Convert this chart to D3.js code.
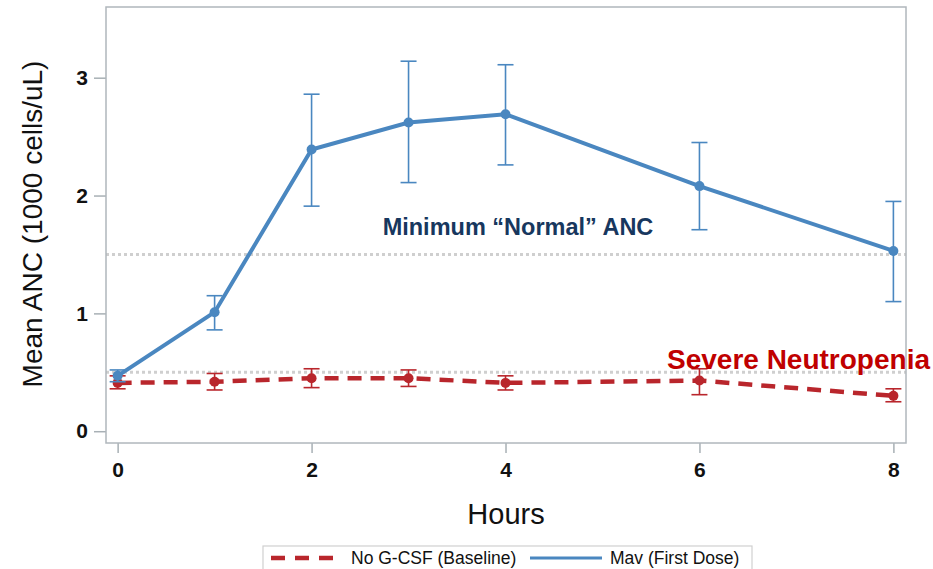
<!DOCTYPE html>
<html>
<head>
<meta charset="utf-8">
<script src="https://cdn.jsdelivr.net/npm/d3@7"></script>
<style>
body { margin:0; background:#fff; }
text { font-family: Arial, "Liberation Sans", sans-serif; }
</style>
</head>
<body>
<svg id="chart"></svg>
<script>
// hours sampled
var hours = [0, 1, 2, 3, 4, 6, 8];

// Mav (First Dose)
var mavMean = [0.47, 1.01, 2.39, 2.62, 2.69, 2.08, 1.53];
var mavLow  = [0.42, 0.86, 1.91, 2.11, 2.26, 1.71, 1.10];
var mavHigh = [0.52, 1.15, 2.86, 3.14, 3.11, 2.45, 1.95];

// No G-CSF (Baseline)
var baseMean = [0.41, 0.42, 0.45, 0.45, 0.41, 0.43, 0.30];
var baseLow  = [0.36, 0.35, 0.37, 0.38, 0.35, 0.31, 0.25];
var baseHigh = [0.47, 0.49, 0.53, 0.52, 0.47, 0.53, 0.36];

var xTicks = [0, 2, 4, 6, 8];
var yTicks = [0, 1, 2, 3];
var refLines = [1.5, 0.5];

var screen = {width:933, height:569};
var margins = {top:7, bottom:126, left:106, right:27};
var graph = {
    width:screen.width-margins.left-margins.right,
    height:screen.height-margins.top-margins.bottom
};

var svg = d3.select("#chart")
    .attr("width",screen.width)
    .attr("height",screen.height);

var xScale = d3.scaleLinear()
    .domain([-0.12,8.13])
    .range([0,graph.width]);

var yScale = d3.scaleLinear()
    .domain([-0.1,3.6])
    .range([graph.height,0]);

var g = svg.append("g")
    .attr("transform","translate("+margins.left+","+margins.top+")");

// reference lines
g.selectAll(".ref")
    .data(refLines)
    .enter()
    .append("line")
    .attr("x1",0)
    .attr("x2",graph.width)
    .attr("y1",function(d){return yScale(d);})
    .attr("y2",function(d){return yScale(d);})
    .attr("stroke","#cfcfcf")
    .attr("stroke-width",3)
    .attr("stroke-dasharray","3,3");

// axes
var xAxis = d3.axisBottom(xScale).tickValues(xTicks).tickSize(10).tickPadding(9);
var yAxis = d3.axisLeft(yScale).tickValues(yTicks).tickFormat(d3.format("d")).tickSize(12).tickPadding(6);

var xg = g.append("g")
    .attr("transform","translate(0,"+graph.height+")")
    .call(xAxis);
var yg = g.append("g").call(yAxis);

[xg,yg].forEach(function(a)
{
    a.select(".domain").remove();
    a.selectAll("line").attr("stroke","#a8b0b5").attr("stroke-width",1.5);
    a.selectAll("text")
        .attr("fill","#111")
        .style("font-size","21px")
        .style("font-weight","bold");
});

// frame
g.append("rect")
    .attr("width",graph.width)
    .attr("height",graph.height)
    .attr("fill","none")
    .attr("stroke","#b0b7bc")
    .attr("stroke-width",1.5);

var series = [
    {name:"base", mean:baseMean, low:baseLow, high:baseHigh, color:"#b9262c", dash:"14,9", width:4.5},
    {name:"mav", mean:mavMean, low:mavLow, high:mavHigh, color:"#4a87c0", dash:null, width:4}
];

var line = d3.line()
    .x(function(d){return xScale(d.h);})
    .y(function(d){return yScale(d.v);});

series.forEach(function(s)
{
    var pts = hours.map(function(h,i){
        return {h:h, v:s.mean[i], lo:s.low[i], hi:s.high[i]};
    });

    var sg = g.append("g").classed(s.name,true);

    var eb = sg.selectAll(".err")
        .data(pts)
        .enter()
        .append("g")
        .attr("stroke",s.color)
        .attr("stroke-width",1.6);

    eb.append("line")
        .attr("x1",function(d){return xScale(d.h);})
        .attr("x2",function(d){return xScale(d.h);})
        .attr("y1",function(d){return yScale(d.lo);})
        .attr("y2",function(d){return yScale(d.hi);});
    eb.append("line")
        .attr("x1",function(d){return xScale(d.h)-8;})
        .attr("x2",function(d){return xScale(d.h)+8;})
        .attr("y1",function(d){return yScale(d.lo);})
        .attr("y2",function(d){return yScale(d.lo);});
    eb.append("line")
        .attr("x1",function(d){return xScale(d.h)-8;})
        .attr("x2",function(d){return xScale(d.h)+8;})
        .attr("y1",function(d){return yScale(d.hi);})
        .attr("y2",function(d){return yScale(d.hi);});

    sg.append("path")
        .datum(pts)
        .attr("d",line)
        .attr("fill","none")
        .attr("stroke",s.color)
        .attr("stroke-width",s.width)
        .attr("stroke-dasharray",s.dash);

    sg.selectAll("circle")
        .data(pts)
        .enter()
        .append("circle")
        .attr("cx",function(d){return xScale(d.h);})
        .attr("cy",function(d){return yScale(d.v);})
        .attr("r",5)
        .attr("fill",s.color);
});

// annotations
svg.append("text")
    .attr("x",518)
    .attr("y",235)
    .attr("text-anchor","middle")
    .attr("fill","#17375e")
    .style("font-size","23.5px")
    .style("font-weight","bold")
    .text("Minimum \u201cNormal\u201d ANC");

svg.append("text")
    .attr("x",930)
    .attr("y",369)
    .attr("text-anchor","end")
    .attr("fill","#c00000")
    .style("font-size","28px")
    .style("font-weight","bold")
    .text("Severe Neutropenia");

// axis titles
svg.append("text")
    .attr("transform","translate(42,224) rotate(-90)")
    .attr("text-anchor","middle")
    .attr("fill","#111")
    .style("font-size","28px")
    .text("Mean ANC (1000 cells/uL)");

svg.append("text")
    .attr("x",506)
    .attr("y",524)
    .attr("text-anchor","middle")
    .attr("fill","#111")
    .style("font-size","29px")
    .text("Hours");

// legend
var lg = svg.append("g").attr("transform","translate(263,546)");
lg.append("rect")
    .attr("width",489)
    .attr("height",25)
    .attr("fill","#fff")
    .attr("stroke","#d0d0d0")
    .attr("stroke-width",1.2);

var legendItems = [
    {label:"No G-CSF (Baseline)", color:"#b9262c", dash:"14,10", x:8, len:62},
    {label:"Mav (First Dose)", color:"#4a87c0", dash:null, x:267, len:72}
];

legendItems.forEach(function(it)
{
    lg.append("line")
        .attr("x1",it.x)
        .attr("x2",it.x+it.len)
        .attr("y1",12)
        .attr("y2",12)
        .attr("stroke",it.color)
        .attr("stroke-width",it.dash ? 4.5 : 3)
        .attr("stroke-dasharray",it.dash);
    lg.append("text")
        .attr("x",it.x+80)
        .attr("y",18)
        .attr("fill","#111")
        .style("font-size","17.5px")
        .text(it.label);
});
</script>
</body>
</html>
